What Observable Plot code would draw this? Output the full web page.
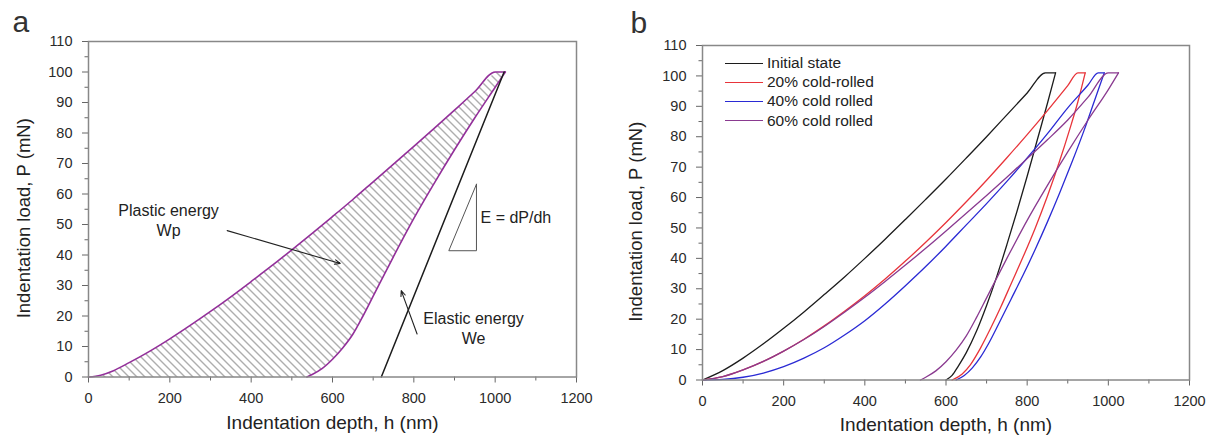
<!DOCTYPE html>
<html><head><meta charset="utf-8">
<script src="https://cdn.jsdelivr.net/npm/d3@7"></script>
<script src="https://cdn.jsdelivr.net/npm/@observablehq/plot@0.6"></script>
<style>
body{margin:0;background:#fff;font-family:"Liberation Sans",Arial,sans-serif;}
#wrap{position:relative;width:1214px;height:443px;overflow:hidden;background:#fff}
.panel{position:absolute;top:0}
#legend{position:absolute;left:725px;top:53.7px;font-size:15.5px;color:#222;}
.row{display:flex;align-items:center;height:19.1px}
.sw{width:38px;height:0;border-top:1.6px solid;margin-right:4px}
</style></head>
<body>
<svg width="0" height="0" style="position:absolute"><defs>
<pattern id="hatchA" patternUnits="userSpaceOnUse" width="8" height="8">
<path d="M-2,-2L10,10M-2,6L2,10M6,-2L10,2" stroke="#5e5e5e" stroke-width="1" fill="none"/>
</pattern></defs></svg>
<div id="wrap"><div id="pa" class="panel" style="left:0"></div><div id="pb" class="panel" style="left:607px"></div><div id="legend"></div></div>
<script>
// ---------- axis ticks ----------
const xMajor = [0,200,400,600,800,1000,1200];
const xMinor = [100,300,500,700,900,1100];
const yMajor = [0,10,20,30,40,50,60,70,80,90,100,110];
const yMinor = [5,15,25,35,45,55,65,75,85,95,105];
const xTitle = "Indentation depth, h (nm)";
const yTitle = "Indentation load, P (mN)";

// ---------- panel a ----------
const aLoadH = [0,30,60,100,150,200,250,300,350,400,450,500,550,600,650,700,750,800,850,900,950,1000,1025];
const aLoadP = [0,0.6,2,4.7,8.4,12.5,16.9,21.5,26.3,31.3,36.4,41.7,47.1,52.6,58.2,64,69.8,75.6,81.5,87.5,93.6,100,100];
const aUnloadH = [1025,1000,950,900,850,800,750,700,675,650,625,600,575,550,537];
const aUnloadP = [100,95,85,74.5,63.5,52,39.5,26.5,20,14,9.5,5.8,2.8,0.8,0];
const aSlopeH = [720,1022];
const aSlopeP = [0,100];
const aTriH = [954,954,886,954];
const aTriP = [63.2,41.4,41.4,63.2];
const aLabels = ["Plastic energy","Wp","Elastic energy","We"];
const aLabelH = [197,197,947,947];
const aLabelP = [54.5,48,19,12.5];
const aSlopeLabel = "E = dP/dh";
const aSlopeLabelH = 964, aSlopeLabelP = 52.3;
const aArrowH1 = [341,808], aArrowP1 = [48,14.1];
const aArrowH2 = [619,769], aArrowP2 = [37.2,28.3];

// ---------- panel b ----------
const bNames = ["Initial state","20% cold-rolled","40% cold rolled","60% cold rolled"];
const bColors = ["#1c1c1c","#e8343a","#2a2ad4","#8a3a90"];
const bInitLoadH = [0,50,100,150,200,250,300,350,400,450,500,550,600,650,700,750,800,845,870];
const bInitLoadP = [0,3.1,7.2,11.9,17,22.4,28.1,33.9,40,46.3,52.8,59.4,66.1,73,80,87.2,94.4,101,101];
const bInitUnH = [870,850,825,800,775,750,725,700,675,650,630,615,600];
const bInitUnP = [101,91,79,67,55.5,44.5,34,24.5,16,9,4.5,1.5,0];
const b20LoadH = [0,50,100,150,200,250,300,350,400,450,500,550,600,650,700,750,800,850,900,925,943];
const b20LoadP = [0,1.1,3.3,6.1,9.5,13.4,17.8,22.6,27.7,33.2,39.1,45.3,51.8,58.6,65.7,73.1,80.7,88.6,96.8,101,101];
const b20UnH = [943,925,905,880,850,820,790,760,735,710,685,660,640,615];
const b20UnP = [101,91.5,82.5,72,60.5,50,40.5,31.5,24,17,10.5,5,2,0];
const b40LoadH = [0,50,100,150,200,250,300,350,400,450,500,550,600,650,700,750,800,850,900,950,975,990];
const b40LoadP = [0,0.2,0.9,2.3,4.4,7.2,10.6,14.8,19.5,25,31,37.3,44,51,58,65.3,73,81,89.5,97,101,101];
const b40UnH = [990,965,940,910,880,850,820,790,760,730,705,685,665,645,625];
const b40UnP = [101,91.5,82,71.5,61.5,52,43,34.5,26.5,18.5,12,7.5,4,1.5,0];
const b60LoadH = [0,50,100,150,200,250,300,350,400,450,500,550,600,650,700,750,800,850,900,950,1000,1025];
const b60LoadP = [0,1.1,3.3,6.1,9.5,13.3,17.6,22.3,27.2,32.4,37.8,43.3,49,54.8,60.7,66.7,72.8,79,85.5,93,101,101];
const b60UnH = [1025,1000,950,900,850,800,750,700,675,650,625,600,575,550,537];
const b60UnP = [101,95.5,85.5,75,64,52.5,40,27,20.5,14.5,9.8,6,3,0.9,0];

const zip = (H,P,extra={}) => H.map((h,i)=>({h, P:P[i], ...extra}));
const asc = rows => rows.slice().sort((a,b)=>a.h-b.h);
const font = "'Liberation Sans', Arial, sans-serif";

function frameMarks(leftDx, bottomDy) {
  return [
    Plot.axisX({ticks: xMajor, tickSize: 6, tickPadding: 10, fontSize: 14.5, stroke: "#666", fill: "#2a2a2a", label: null, tickFormat: "d"}),
    Plot.axisX({ticks: xMinor, tickSize: 4, text: null, stroke: "#666", label: null}),
    Plot.axisY({ticks: yMajor, tickSize: 6, tickPadding: 10, fontSize: 14.5, stroke: "#666", fill: "#2a2a2a", label: null, tickFormat: "d"}),
    Plot.axisY({ticks: yMinor, tickSize: 3.5, text: null, stroke: "#666", label: null}),
    Plot.frame({stroke: "#888", strokeWidth: 1.5}),
    Plot.text([xTitle], {text: d=>d, frameAnchor: "bottom", dy: bottomDy, fontSize: 19, fill: "#222"}),
    Plot.text([yTitle], {text: d=>d, frameAnchor: "left", textAnchor: "middle", dx: leftDx, dy: 9, rotate: -90, fontSize: 18.5, fill: "#222"})
  ];
}

// Panel a
const aLoad = zip(aLoadH,aLoadP), aUnload = zip(aUnloadH,aUnloadP);
const pa = Plot.plot({
  width: 607, height: 443,
  marginLeft: 88, marginRight: 31, marginTop: 41, marginBottom: 66.5,
  style: {fontFamily: font, background: "transparent", overflow: "visible"},
  x: {domain: [0,1200]}, y: {domain: [0,110]},
  marks: [
    Plot.line([...aLoad, ...aUnload], {x: "h", y: "P", fill: "url(#hatchA)", stroke: "none"}),
    Plot.line(aLoad, {x: "h", y: "P", stroke: "#93309a", strokeWidth: 1.6, curve: "monotone-x"}),
    Plot.line(asc(aUnload), {x: "h", y: "P", stroke: "#93309a", strokeWidth: 1.6, curve: "monotone-x"}),
    Plot.line(zip(aSlopeH,aSlopeP), {x: "h", y: "P", stroke: "#1c1c1c", strokeWidth: 1.5}),
    Plot.line(zip(aTriH,aTriP), {x: "h", y: "P", stroke: "#555", strokeWidth: 1}),
    Plot.text(aLabels.map((t,i)=>({t, h: aLabelH[i], P: aLabelP[i]})), {x: "h", y: "P", text: "t", fontSize: 16, fill: "#222"}),
    Plot.text([aSlopeLabel], {x: ()=>aSlopeLabelH, y: ()=>aSlopeLabelP, text: d=>d, textAnchor: "start", fontSize: 16, fill: "#222"}),
    Plot.arrow(aArrowH1.map((h,i)=>({h1:h, p1:aArrowP1[i], h2:aArrowH2[i], p2:aArrowP2[i]})), {x1:"h1", y1:"p1", x2:"h2", y2:"p2", stroke: "#222", strokeWidth: 1.1, headLength: 8, headAngle: 45}),
    ...frameMarks(-64, 51.5),
    Plot.text(["a"], {text: d=>d, frameAnchor: "top-left", dx: -76, dy: -9.3, lineAnchor: "bottom", fontSize: 30, fill: "#333"})
  ]
});
document.getElementById("pa").append(pa);

// Panel b
const bSeries = [
  [bInitLoadH,bInitLoadP,bInitUnH,bInitUnP],
  [b20LoadH,b20LoadP,b20UnH,b20UnP],
  [b40LoadH,b40LoadP,b40UnH,b40UnP],
  [b60LoadH,b60LoadP,b60UnH,b60UnP]
];
const bData = bSeries.flatMap(([lh,lp,uh,up],i)=>[
  ...zip(lh,lp,{s: bNames[i], part: "load"}),
  ...asc(zip(uh,up,{s: bNames[i], part: "unload"}))
]);
const pb = Plot.plot({
  width: 607, height: 443,
  marginLeft: 95, marginRight: 25, marginTop: 45, marginBottom: 63.5,
  style: {fontFamily: font, background: "transparent", overflow: "visible"},
  x: {domain: [0,1200]}, y: {domain: [0,110]},
  color: {domain: bNames, range: bColors},
  marks: [
    Plot.line(bData, {x: "h", y: "P", z: d=>d.s+"|"+d.part, stroke: "s", strokeWidth: 1.3, curve: "monotone-x"}),
    ...frameMarks(-66, 50.5),
    Plot.text(["b"], {text: d=>d, frameAnchor: "top-left", dx: -72, dy: -13, lineAnchor: "bottom", fontSize: 30, fill: "#333"})
  ]
});
document.getElementById("pb").append(pb);

// Legend
const lg = document.getElementById("legend");
bNames.forEach((n,i)=>{
  const r = document.createElement("div"); r.className = "row";
  const s = document.createElement("span"); s.className = "sw"; s.style.borderColor = bColors[i];
  const t = document.createElement("span"); t.textContent = n;
  r.append(s,t); lg.append(r);
});
</script>
</body></html>
